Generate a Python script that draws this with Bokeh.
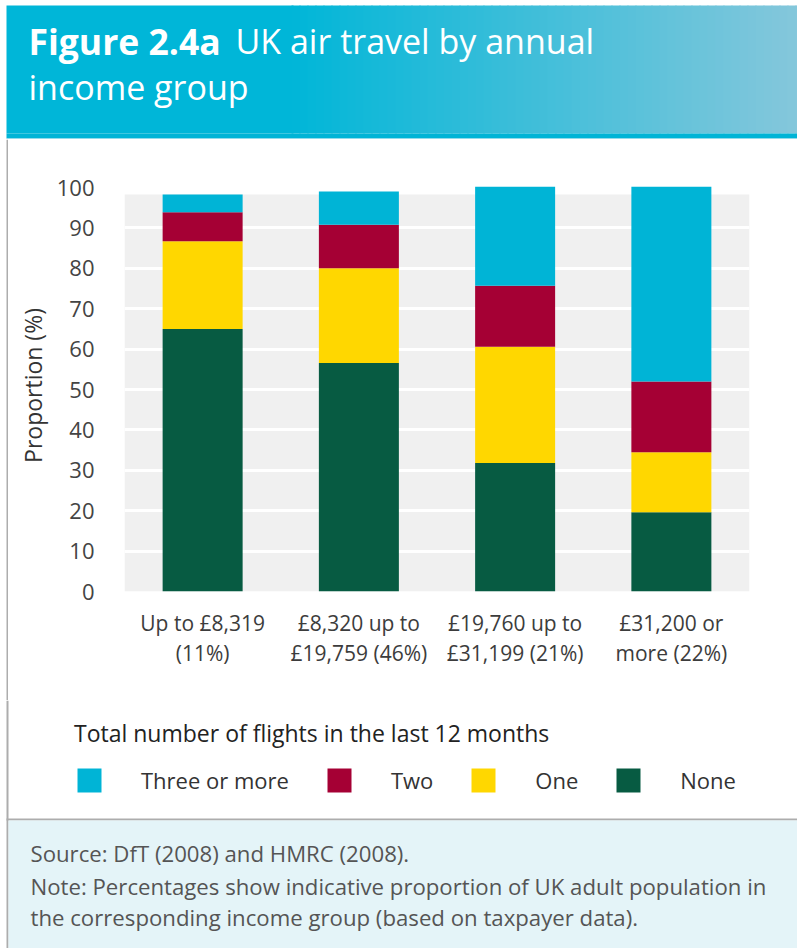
from bokeh.plotting import figure
from bokeh.layouts import column, row
from bokeh.models import (Range1d, FactorRange, ColumnDataSource, BoxAnnotation, Label,
                          Legend, LegendItem, FixedTicker)
from bokeh.embed import file_html
from bokeh.resources import INLINE

# ---------------- data ----------------
categories = ["Up to £8,319\n(11%)", "£8,320 up to\n£19,759 (46%)",
              "£19,760 up to\n£31,199 (21%)", "£31,200 or\nmore (22%)"]
none_vals = [65.0, 56.6, 31.8, 19.6]
one_vals = [21.7, 23.4, 28.8, 14.9]
two_vals = [7.2, 10.8, 15.1, 17.5]
three_vals = [4.4, 8.2, 24.5, 48.2]
series_keys = ["none", "one", "two", "three"]
series_labels = ["None", "One", "Two", "Three or more"]
series_colors = ["#075B42", "#FFD700", "#A50034", "#00B4D6"]
y_ticks = list(range(0, 101, 10))

title_bold = "Figure 2.4a"
title_line1 = "UK air travel by annual"
title_line2 = "income group"
legend_title = "Total number of flights in the last 12 months"
footer_lines = ["Source: DfT (2008) and HMRC (2008).",
                "Note: Percentages show indicative proportion of UK adult population in",
                "the corresponding income group (based on taxpayer data)."]

FONT = "Open Sans"
W = 797
HEAD_H, CHART_H, BOT_H = 139, 561, 248
STRIP_W = 8
NCAT = len(categories)


def blank_fig(w, h, x_range=None, y_range=None):
    f = figure(width=w, height=h,
               x_range=x_range if x_range is not None else Range1d(0, w),
               y_range=y_range if y_range is not None else Range1d(h, 0),
               x_axis_type=None, y_axis_type=None, output_backend="svg",
               toolbar_location=None, min_border=0)
    f.outline_line_color = None
    f.background_fill_color = "white"
    f.border_fill_color = "white"
    f.grid.visible = False
    return f


def box(f, l, r, t, b, color, xf=lambda v: v):
    f.add_layout(BoxAnnotation(left=xf(l), right=xf(r), top=t, bottom=b, fill_color=color,
                               fill_alpha=1.0, line_color=None, level="underlay"))


def label(f, x, y, text, size, color, style="normal", baseline="alphabetic",
          xf=lambda v: v):
    f.add_layout(Label(x=xf(x), y=y, text=text, text_font=FONT, text_font_size=size,
                       text_color=color, text_font_style=style, text_baseline=baseline))


# ---------------- header ----------------
head = blank_fig(W, HEAD_H)
c0 = (0, 182, 216)
c1 = (133, 199, 219)
box(head, 6, 293, 5, 133, "#00B6D8")
step = 8
for x0 in range(290, W, step):
    t = (x0 + step / 2 - 290) / (W - 290)
    col = "#%02X%02X%02X" % tuple(int(round(a + (b - a) * t)) for a, b in zip(c0, c1))
    box(head, x0 + 1, min(x0 + step + 2, W), 5, 133, col)
box(head, 6, W, 133, 138, "#00B4D6")
box(head, 6, W, 138, 139, "#A8DDEA")
label(head, 28, 40, title_bold, "35.5px", "white", style="bold")
label(head, 235, 40, title_line1, "34px", "white")
label(head, 28, 86, title_line2, "34px", "white")

# ---------------- left border strip ----------------
strip = blank_fig(STRIP_W, CHART_H)
box(strip, 6, 8, 0, CHART_H, "#ADADAD")

# ---------------- chart ----------------
CW = W - STRIP_W
FL, FR, FT, FB = 124 - STRIP_W, 749 - STRIP_W, 179 - HEAD_H, 591 - HEAD_H

src = ColumnDataSource(dict(cat=categories, none=none_vals, one=one_vals,
                            two=two_vals, three=three_vals))

p = figure(width=CW, height=CHART_H, x_range=FactorRange(*categories),
           y_range=Range1d(0, 102), output_backend="svg", toolbar_location=None,
           min_border_left=FL, min_border_right=CW - FR,
           min_border_top=FT, min_border_bottom=CHART_H - FB)
p.background_fill_color = "white"
p.border_fill_color = "white"
p.outline_line_color = None

# grey plot area
p.add_layout(BoxAnnotation(top=98.3, fill_color="#F0F0F0", fill_alpha=1.0,
                           line_color=None, level="image"))

p.ygrid.ticker = FixedTicker(ticks=y_ticks)
p.ygrid.grid_line_color = "white"
p.ygrid.grid_line_width = 3
p.xgrid.visible = False

rs = p.vbar_stack(series_keys, x="cat", width=0.512, fill_color=series_colors,
                  line_color=None, source=src)

p.yaxis.ticker = FixedTicker(ticks=y_ticks)
p.yaxis.axis_label = "Proportion (%)"
p.yaxis.axis_label_text_font = FONT
p.yaxis.axis_label_text_font_style = "normal"
p.yaxis.axis_label_text_font_size = "23px"
p.yaxis.axis_label_text_color = "#333333"
p.yaxis.axis_label_standoff = 5
p.yaxis.major_label_text_font = FONT
p.yaxis.major_label_text_font_size = "22px"
p.yaxis.major_label_text_color = "#444444"
p.yaxis.major_label_standoff = 24
for ax in (p.xaxis, p.yaxis):
    ax.axis_line_color = None
    ax.major_tick_line_color = None
    ax.minor_tick_line_color = None
p.xaxis.major_label_text_font = FONT
p.xaxis.major_label_text_font_size = "21px"
p.xaxis.major_label_text_color = "#3c3c3c"
p.xaxis.major_label_text_line_height = 1.1
p.xaxis.major_label_standoff = 11

# ---------------- legend + footer panel (canvas y 700..948) ----------------
def bx(px):
    # canvas pixel -> synthetic categorical coordinate of the bottom panel
    return px / W * NCAT

bot = blank_fig(W, BOT_H, x_range=FactorRange(*categories), y_range=Range1d(BOT_H, 0))
# hidden copies of the series so that the legend swatches come from the data renderers
bot.extra_y_ranges = {"hidden": Range1d(1000, 1100)}
lrs = bot.vbar_stack(series_keys, x="cat", width=0.512, fill_color=series_colors,
                     line_color=None, source=src, y_range_name="hidden")

FOOT_TOP = 818 - 700
box(bot, 6, 8, 0, BOT_H, "#ADADAD", xf=bx)
box(bot, 6, W, FOOT_TOP, FOOT_TOP + 2, "#ADADAD", xf=bx)
box(bot, 8, W, FOOT_TOP + 2, BOT_H, "#E4F4F8", xf=bx)
for y, line in zip([853, 886, 917], footer_lines):
    label(bot, 30, y - 700, line, "22.2px", "#555555", baseline="middle", xf=bx)

items = [LegendItem(label=lab, renderers=[r]) for lab, r in zip(series_labels, lrs)][::-1]
legend = Legend(items=items, location=(74, BOT_H - (795 - 700)),
                orientation="horizontal",
                title=legend_title, title_text_font=FONT, title_text_font_size="23px",
                title_text_font_style="normal", title_text_color="#222222",
                title_standoff=16, label_text_font=FONT, label_text_font_size="22px",
                label_text_color="#333333", glyph_width=30, glyph_height=30,
                label_standoff=37, spacing=35, padding=0, margin=0,
                border_line_color=None, background_fill_alpha=0)
bot.add_layout(legend, "center")

layout = column(head, row(strip, column(p, spacing=0), spacing=0), bot, spacing=0)
open("out.html", "w").write(file_html(layout, INLINE))
